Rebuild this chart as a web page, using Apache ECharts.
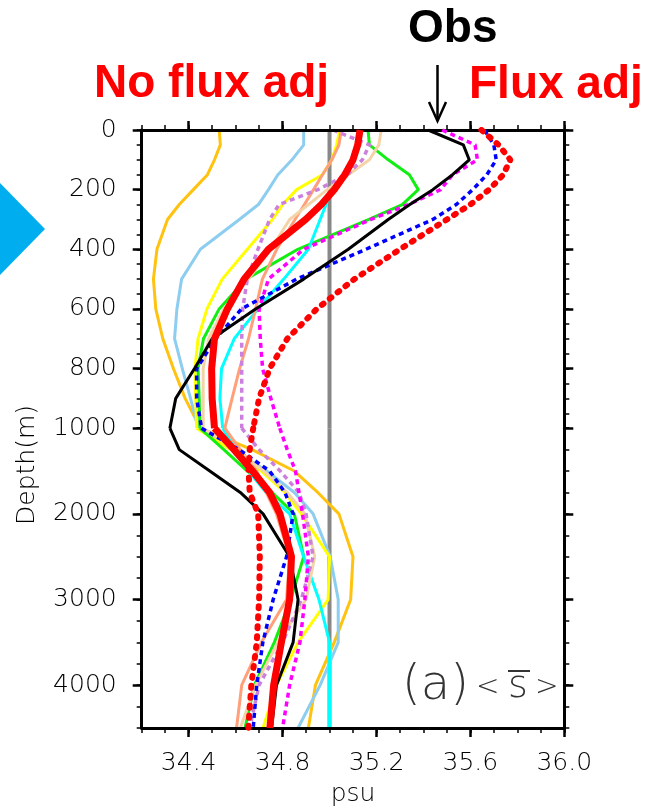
<!DOCTYPE html>
<html><head><meta charset="utf-8">
<script src="https://cdn.jsdelivr.net/npm/echarts@6/dist/echarts.min.js"></script>
<style>html,body{margin:0;padding:0;background:#fff}#c{width:654px;height:808px}</style>
</head><body><div id="c"></div><script>
// ---- data ----
const depths = [0, 50, 100, 150, 200, 250, 300, 400, 500, 600, 700, 800, 900, 1000, 1250, 1500, 1750, 2000, 2500, 3000, 3500, 4000, 4500];
const gold      = [34.53, 34.535, 34.51, 34.48, 34.42, 34.36, 34.31, 34.265, 34.25, 34.26, 34.29, 34.335, 34.385, 34.45, 34.67, 34.85, 34.95, 35.04, 35.10, 35.09, 35.02, 34.94, 34.91];
const lightBlue = [34.89, 34.89, 34.84, 34.78, 34.74, 34.697, 34.616, 34.45, 34.37, 34.35, 34.34, 34.373, 34.408, 34.44, 34.587, 34.733, 34.85, 34.93, 35.003, 35.037, 35.037, 34.96, 34.866];
const yellow    = [35.044, 35.03, 35.01, 34.97, 34.86, 34.80, 34.757, 34.65, 34.543, 34.478, 34.44, 34.427, 34.43, 34.434, 34.58, 34.71, 34.81, 34.88, 35.0, 34.994, 34.866, 34.774, 34.717];
const green     = [35.164, 35.17, 35.25, 35.34, 35.378, 35.31, 35.168, 34.865, 34.645, 34.53, 34.463, 34.44, 34.445, 34.448, 34.55, 34.65, 34.755, 34.85, 34.89, 34.835, 34.765, 34.68, 34.64];
const cyan      = [35.13, 35.13, 35.10, 35.06, 35.01, 34.985, 34.96, 34.91, 34.805, 34.695, 34.594, 34.54, 34.533, 34.545, 34.60, 34.655, 34.73, 34.83, 34.89, 34.955, 35.0, 35.0, 35.0];
const salmon    = [35.05, 35.04, 35.01, 34.97, 34.932, 34.893, 34.853, 34.775, 34.714, 34.685, 34.655, 34.617, 34.585, 34.554, 34.62, 34.69, 34.73, 34.774, 34.83, 34.817, 34.71, 34.626, 34.604];
const wheat     = [35.22, 35.21, 35.17, 35.08, 34.99, 34.91, 34.83, 34.75, 34.655, 34.55, 34.485, 34.462, 34.462, 34.462, 34.6, 34.72, 34.82, 34.895, 34.937, 34.90, 34.78, 34.685, 34.62];
const orchid    = [35.015, 35.17, 35.14, 35.075, 34.95, 34.785, 34.745, 34.695, 34.65, 34.63, 34.626, 34.626, 34.626, 34.626, 34.70, 34.79, 34.87, 34.90, 34.93, 34.88, 34.80, 34.70, 34.66];
const magenta   = [35.48, 35.62, 35.63, 35.524, 35.473, 35.336, 35.176, 34.89, 34.74, 34.70, 34.705, 34.715, 34.75, 34.788, 34.82, 34.855, 34.87, 34.885, 34.91, 34.895, 34.874, 34.83, 34.80];
const blue      = [35.66, 35.70, 35.71, 35.67, 35.61, 35.54, 35.44, 35.155, 34.86, 34.625, 34.515, 34.434, 34.434, 34.455, 34.615, 34.745, 34.81, 34.845, 34.817, 34.76, 34.716, 34.69, 34.675];
const obs       = [35.42, 35.57, 35.595, 35.524, 35.44, 35.342, 35.25, 35.08, 34.89, 34.685, 34.50, 34.425, 34.345, 34.32, 34.36, 34.49, 34.62, 34.717, 34.83, 34.866, 34.845, 34.774, 34.753];
const noFluxAdj = [35.13, 35.12, 35.10, 35.065, 35.02, 34.965, 34.898, 34.74, 34.636, 34.565, 34.51, 34.498, 34.50, 34.51, 34.593, 34.672, 34.745, 34.789, 34.838, 34.83, 34.795, 34.762, 34.746];
const fluxAdj   = [35.647, 35.72, 35.77, 35.74, 35.68, 35.60, 35.50, 35.30, 35.106, 34.946, 34.82, 34.745, 34.70, 34.675, 34.66, 34.655, 34.66, 34.696, 34.703, 34.70, 34.69, 34.667, 34.654];
const refSalinity = 35.0;
const xTickLabels = [34.4, 34.8, 35.2, 35.6, 36.0];
const upperDepthTicks = [0, 200, 400, 600, 800, 1000];
const lowerDepthTicks = [2000, 3000, 4000];
const splitDepth = 1000;
const xMin = 34.2, xMax = 36.0, depthMax = 4500;

// ---- styles ----
const profiles = [
  {v: gold, color: '#FFC20E', width: 3, type: 'solid'},
  {v: lightBlue, color: '#8CCDF0', width: 3, type: 'solid'},
  {v: yellow, color: '#FFFF00', width: 3, type: 'solid'},
  {v: green, color: '#11EE11', width: 3, type: 'solid'},
  {v: cyan, color: '#00FFFF', width: 3, type: 'solid'},
  {v: salmon, color: '#FFA07A', width: 3, type: 'solid'},
  {v: wheat, color: '#F5D3A8', width: 3, type: 'solid'},
  {v: orchid, color: '#CC80DD', width: 3.5, type: [5, 4]},
  {v: magenta, color: '#FF00FF', width: 3.5, type: [5, 4]},
  {v: blue, color: '#0000FF', width: 3.5, type: [5, 4]},
  {v: obs, color: '#000000', width: 3, type: 'solid'},
  {v: noFluxAdj, color: '#FF0000', width: 7, type: 'solid'},
  {v: fluxAdj, color: '#FF0000', width: 6, type: [2, 8], cap: 'round'}
];

const GL = 141.7, GW = 422.6, GT = 130, GH1 = 298.2, GH2 = 299.8;
const lab = {fontFamily: 'DejaVu Sans', fontWeight: 300, fontSize: 25, color: '#000'};
const axLine = {show: true, lineStyle: {color: '#000', width: 3}};
const majTick = {show: true, inside: false, length: 9, lineStyle: {color: '#000', width: 2.5}};
const minTick = {show: true, inside: false, length: 5, lineStyle: {color: '#000', width: 1.5}};
const off = {show: false};

function xAx(grid, pos, major, labels) {
  const a = {type: 'value', gridIndex: grid, position: pos, min: xMin, max: xMax, splitLine: off, z: 10};
  if (major) {
    a.axisLine = axLine;
    a.axisTick = Object.assign({customValues: xTickLabels}, majTick);
    a.axisLabel = labels ? Object.assign({customValues: xTickLabels, margin: 23, formatter: v => v.toFixed(1)}, lab) : off;
  } else {
    a.interval = 0.1; a.axisLine = off; a.axisTick = minTick; a.axisLabel = off;
  }
  return a;
}
function yAx(grid, pos, major, labels, lo, hi, ticks, minorInt) {
  const a = {type: 'value', gridIndex: grid, position: pos, inverse: true, min: lo, max: hi, splitLine: off, z: 10};
  if (major) {
    a.axisLine = axLine;
    a.axisTick = Object.assign({customValues: ticks}, majTick);
    a.axisLabel = labels ? Object.assign({customValues: ticks, margin: 25, formatter: v => String(Math.round(v))}, lab) : off;
  } else {
    a.interval = minorInt; a.axisLine = off; a.axisTick = minTick; a.axisLabel = off;
  }
  return a;
}

const xAxes = [
  xAx(0, 'top', true, false), xAx(0, 'top', false, false),
  xAx(1, 'bottom', true, true), xAx(1, 'bottom', false, false)
];
xAxes[2].name = 'psu';
xAxes[2].nameLocation = 'middle';
xAxes[2].nameGap = 54;
xAxes[2].nameTextStyle = {fontFamily: 'DejaVu Sans', fontWeight: 300, fontSize: 25, color: '#000'};

const yAxes = [
  yAx(0, 'left', true, true, 0, splitDepth, upperDepthTicks),
  yAx(0, 'left', false, false, 0, splitDepth, null, 50),
  yAx(0, 'right', true, false, 0, splitDepth, upperDepthTicks),
  yAx(0, 'right', false, false, 0, splitDepth, null, 50),
  yAx(1, 'left', true, true, splitDepth, depthMax, lowerDepthTicks),
  yAx(1, 'left', false, false, splitDepth, depthMax, null, 250),
  yAx(1, 'right', true, false, splitDepth, depthMax, lowerDepthTicks),
  yAx(1, 'right', false, false, splitDepth, depthMax, null, 250)
];

function seg(values, lo, hi) {
  const out = [];
  depths.forEach((d, i) => { if (d >= lo && d <= hi) out.push([values[i], d]); });
  return out;
}
const series = [];
function addPair(top, bottom, ls, z) {
  series.push({type: 'line', xAxisIndex: 0, yAxisIndex: 0, data: top, showSymbol: false, symbol: 'none', silent: true, lineStyle: ls, z: z});
  series.push({type: 'line', xAxisIndex: 2, yAxisIndex: 4, data: bottom, showSymbol: false, symbol: 'none', silent: true, lineStyle: ls, z: z});
}
addPair([[refSalinity, depths[0]], [refSalinity, splitDepth]], [[refSalinity, splitDepth], [refSalinity, depthMax]], {color: '#888', width: 4}, 1);
profiles.forEach((p, i) => {
  addPair(seg(p.v, 0, splitDepth), seg(p.v, splitDepth, depthMax),
    {color: p.color, width: p.width, type: p.type, cap: p.cap || 'butt', join: 'round'}, 2 + i);
});

function txt(x, y, text, font, fill, align, rot) {
  return {type: 'text', x: x, y: y, rotation: rot || 0, silent: true,
    style: {text: text, font: font, fill: fill, align: align || 'left', verticalAlign: 'middle', textAlign: align || 'left', textVerticalAlign: 'middle'}};
}
const graphic = [
  {type: 'polygon', silent: true, shape: {points: [[0, 183], [45, 229], [0, 275]]}, style: {fill: '#00AEEF'}},
  txt(408, 29, 'Obs', 'bold 46px "Liberation Sans"', '#000'),
  txt(94, 84, 'No flux adj', 'bold 46px "Liberation Sans"', '#FF0000'),
  txt(469, 85, 'Flux adj', 'bold 46px "Liberation Sans"', '#FF0000'),
  {type: 'line', silent: true, shape: {x1: 437.5, y1: 65, x2: 437.5, y2: 120}, style: {stroke: '#000', lineWidth: 2.5}},
  {type: 'polyline', silent: true, shape: {points: [[429, 102], [437.5, 121], [446, 102]]}, style: {stroke: '#000', lineWidth: 2.5, fill: null}},
  txt(27, 465, 'Depth(m)', '300 25px "DejaVu Sans"', '#000', 'center', Math.PI / 2),
  txt(402, 687, '(a)', '300 48px "DejaVu Sans"', '#333'),
  txt(476, 688, '<', '300 28px "DejaVu Sans"', '#333'),
  txt(508, 687, 's', '300 38px "DejaVu Sans"', '#333'),
  {type: 'line', silent: true, shape: {x1: 508, y1: 671, x2: 530, y2: 671}, style: {stroke: '#333', lineWidth: 2}},
  txt(535, 688, '>', '300 28px "DejaVu Sans"', '#333')
];

const chart = echarts.init(document.getElementById('c'), null, {renderer: 'canvas'});
chart.setOption({
  animation: false,
  backgroundColor: '#fff',
  grid: [
    {left: GL, top: GT, width: GW, height: GH1, containLabel: false},
    {left: GL, top: GT + GH1, width: GW, height: GH2, containLabel: false}
  ],
  xAxis: xAxes,
  yAxis: yAxes,
  series: series,
  graphic: graphic
});
</script></body></html>
